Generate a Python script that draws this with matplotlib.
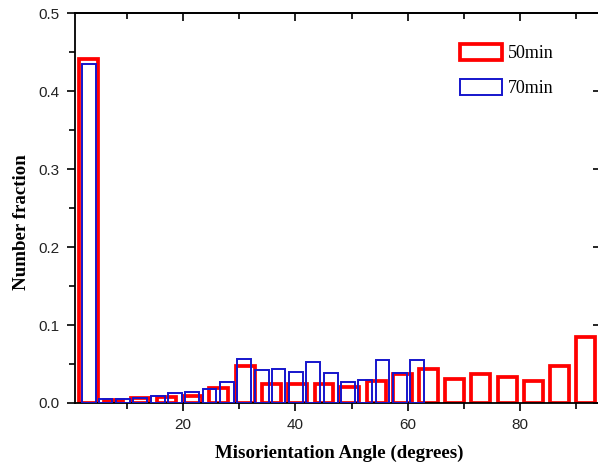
import matplotlib.pyplot as plt
from matplotlib.patches import Patch
from matplotlib.ticker import MultipleLocator

# bin centres (degrees) and number fractions
ang_50 = [3.1, 7.7, 12.4, 17.1, 21.7, 26.4, 31.1, 35.7, 40.4, 45.1,
          49.7, 54.4, 59.0, 63.7, 68.4, 73.0, 77.7, 82.4, 87.0, 91.7]
frac_50 = [0.441, 0.004, 0.007, 0.008, 0.009, 0.019, 0.047, 0.025, 0.025, 0.025,
           0.021, 0.028, 0.037, 0.044, 0.031, 0.037, 0.033, 0.028, 0.047, 0.085]

ang_70 = [3.2, 6.2, 9.3, 12.4, 15.5, 18.6, 21.6, 24.7, 27.8, 30.9,
          34.0, 37.0, 40.1, 43.2, 46.3, 49.4, 52.4, 55.5, 58.6, 61.7]
frac_70 = [0.435, 0.005, 0.005, 0.006, 0.009, 0.013, 0.014, 0.018, 0.027, 0.056,
           0.042, 0.043, 0.040, 0.053, 0.038, 0.027, 0.029, 0.055, 0.038, 0.055]

labels = ["50min", "70min"]
red = "#ff0000"
blue = "#1515cc"

fig = plt.figure(figsize=(5.98, 4.67), dpi=100)
# axes runs a little past the right edge of the picture (right spine is cut off)
ax = fig.add_axes([75 / 598, 64 / 467, 528 / 598, 389.7 / 467])

ax.bar(ang_50, frac_50, width=3.38, fill=False, edgecolor=red, linewidth=2.7, zorder=2)
ax.bar(ang_70, frac_70, width=2.44, fill=False, edgecolor=blue, linewidth=1.4, zorder=3)

ax.set_xlim(0.77, 94.77)
ax.set_ylim(0, 0.5)

ax.xaxis.set_major_locator(MultipleLocator(20))
ax.xaxis.set_minor_locator(MultipleLocator(10))
ax.yaxis.set_major_locator(MultipleLocator(0.1))
ax.yaxis.set_minor_locator(MultipleLocator(0.05))
ax.yaxis.set_major_formatter(plt.FormatStrFormatter('%.1f'))

ax.tick_params(which='both', direction='out', top=False, right=False,
               labelsize=11, labelcolor='#222222', width=1.2, pad=5)
ax.tick_params(which='major', length=6)
ax.tick_params(which='minor', length=4)
for lbl in ax.get_xticklabels() + ax.get_yticklabels():
    lbl.set_family('Liberation Sans')

# mirrored ticks on top and right, pointing in
top = ax.secondary_xaxis('top')
top.xaxis.set_major_locator(MultipleLocator(20))
top.xaxis.set_minor_locator(MultipleLocator(10))
top.tick_params(which='both', direction='in', labeltop=False, width=1.2)
top.tick_params(which='major', length=6)
top.tick_params(which='minor', length=4)
right = ax.secondary_yaxis('right')
right.yaxis.set_major_locator(MultipleLocator(0.1))
right.tick_params(which='major', direction='in', labelright=False, width=1.2, length=7)
right.tick_params(which='minor', length=0)

for s in ax.spines.values():
    s.set_linewidth(1.3)
top.spines['top'].set_linewidth(1.3)

ax.set_xlabel("Misorientation Angle (degrees)", family='Liberation Serif',
              fontweight='bold', fontsize=13.6, labelpad=9)
ax.set_ylabel("Number fraction", family='Liberation Serif',
              fontweight='bold', fontsize=13.6)
ax.yaxis.set_label_coords(-0.086, 0.464)

handles = [Patch(facecolor='white', edgecolor=red, linewidth=2.7),
           Patch(facecolor='white', edgecolor=blue, linewidth=1.4)]
ax.legend(handles, labels, loc='upper left', bbox_to_anchor=(460 / 598, 1 - 44 / 467),
          bbox_transform=fig.transFigure, frameon=False, borderpad=0, borderaxespad=0,
          handlelength=2.3, handleheight=0.95, handletextpad=0.35, labelspacing=0.95,
          prop={'family': 'Liberation Serif', 'size': 13})

fig.savefig("out.png", dpi=100)
